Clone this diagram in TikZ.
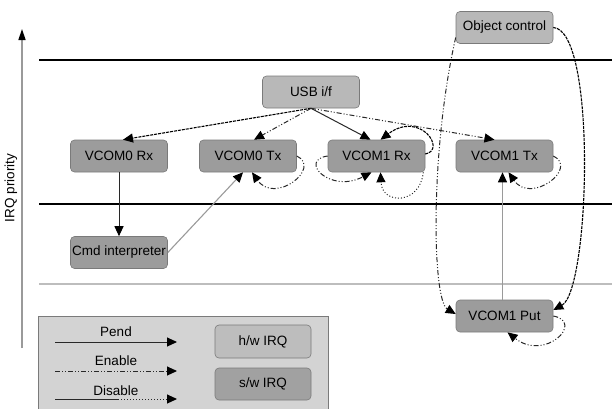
\documentclass[tikz,border=0pt]{standalone}
\usepackage{fontspec}
\setmainfont{Liberation Sans}
\usetikzlibrary{arrows.meta}
\definecolor{hwfill}{HTML}{B8B8B8}
\definecolor{swfill}{HTML}{9C9C9C}
\definecolor{nodeline}{HTML}{7A7A7A}
\definecolor{legfill}{HTML}{D3D3D3}
\definecolor{axisgray}{HTML}{9A9A9A}
\definecolor{linegray}{HTML}{BDBDBD}
\definecolor{conn}{HTML}{282828}
\definecolor{softconn}{HTML}{9A9A9A}
\begin{document}
\begin{tikzpicture}[x=1pt,y=-1pt,
  box/.style={draw=nodeline, line width=0.6pt, rounded corners=4pt, minimum width=97pt, minimum height=32pt, inner sep=0pt, font=\fontsize{13.5}{15}\selectfont},
  hw/.style={box, fill=hwfill},
  sw/.style={box, fill=swfill},
  tip/.style={-{Triangle[length=10pt,width=9pt,color=black]}},
  pend/.style={tip, draw=conn, line width=1pt},
  softpend/.style={tip, draw=softconn, line width=1.1pt},
  enable/.style={tip, draw=conn, line width=1pt, dash pattern=on 5pt off 2pt on 1pt off 2pt on 1pt off 2pt},
  disable/.style={tip, draw=black, line width=1.1pt, dash pattern=on 3pt off 1pt},
  dotline/.style={tip, draw=conn, line width=1pt, dash pattern=on 1pt off 2pt},
  lbl/.style={font=\fontsize{13.5}{15}\selectfont, inner sep=0pt},
  level/.style={line width=1.3pt}
]
\useasboundingbox (0,0) rectangle (612,408);

% priority levels
\draw[level, black] (39,60) -- (612,60);
\draw[level, black] (39,204) -- (612,204);
\draw[level, linegray] (39,284) -- (612,284);

% axis
\coordinate (axb) at (22,348);
\coordinate (axt) at (22,29);
\draw[axisgray, line width=1.5pt, -{Triangle[length=11pt,width=7pt,color=black]}] (axb) -- (axt);
\node[lbl, rotate=90] (irq) at (11,188) {IRQ priority};

% nodes
\node[hw] (obj) at (504.5,27.5) {Object control};
\node[hw] (usb) at (311,92) {USB i/f};
\node[sw] (v0rx) at (119,156) {VCOM0 Rx};
\node[sw] (v0tx) at (248,156) {VCOM0 Tx};
\node[sw] (v1rx) at (376.5,156) {VCOM1 Rx};
\node[sw] (v1tx) at (504.5,156) {VCOM1 Tx};
\node[sw] (cmd) at (119,252.5) {Cmd interpreter};
\node[sw] (put) at (504.5,316) {VCOM1 Put};

% connectors from USB
\draw[disable] (usb.south) -- ([xshift=4pt]v0rx.north);
\draw[enable] (usb.south) -- ([xshift=6pt]v0tx.north);
\draw[pend] (usb.south) -- ([xshift=-6pt]v1rx.north);
\draw[enable] (usb.south) -- ([xshift=-10pt]v1tx.north);

% VCOM1 Rx loops
\draw[disable] ([yshift=2pt]v1rx.east) .. controls (447,150) and (420,110) .. ([xshift=4pt]v1rx.north);
\draw[enable] (v1rx.west) .. controls (298,160) and (330,194) .. ([xshift=-5pt]v1rx.south);
\draw[dotline] ([xshift=-2pt]v1rx.south east) .. controls (420,205) and (382,205) .. ([xshift=4pt]v1rx.south);

% other loops
\draw[enable] (v0tx.east) .. controls (322,168) and (275,205) .. ([xshift=4pt]v0tx.south);
\draw[enable] (v1tx.east) .. controls (579,168) and (531,205) .. ([xshift=4pt]v1tx.south);
\draw[enable] (put.east) .. controls (585,322) and (545,362) .. ([xshift=3pt]put.south);

% straight connectors
\draw[pend] (v0rx.south) -- (cmd.north);
\draw[softpend] (cmd.east) -- ([xshift=-5pt]v0tx.south);
\draw[softpend] ([xshift=-2pt]put.north) -- ([xshift=-2pt]v1tx.south);

% object control
\draw[enable] ([yshift=-10pt]obj.west) .. controls (430,150) and (432,300) .. ([yshift=2pt]put.west);
\draw[disable] (obj.east) .. controls (597,30) and (590,290) .. ([yshift=6pt]put.east);

% legend
\draw[nodeline, fill=legfill, line width=0.8pt] (38,316) rectangle (328,412);
\coordinate (pa) at (55,342); \coordinate (pb) at (177,342);
\coordinate (ea) at (55,371); \coordinate (eb) at (177,371);
\coordinate (da) at (55,399); \coordinate (dm) at (118,399); \coordinate (db) at (177,399);
\draw[pend] (pa) -- (pb);
\draw[enable] (ea) -- (eb);
\draw[conn, line width=1pt] (da) -- (dm);
\draw[dotline] (dm) -- (db);
\node[lbl] (lpend) at (116,332) {Pend};
\node[lbl] (lenable) at (116,361) {Enable};
\node[lbl] (ldisable) at (116,391) {Disable};
\node[box, fill=hwfill!80!legfill, minimum height=33pt, minimum width=96pt] (lhw) at (263,341.5) {h/w IRQ};
\node[box, fill=swfill!90!legfill, minimum height=32pt, minimum width=96pt] (lsw) at (263,384) {s/w IRQ};
\end{tikzpicture}
\end{document}
